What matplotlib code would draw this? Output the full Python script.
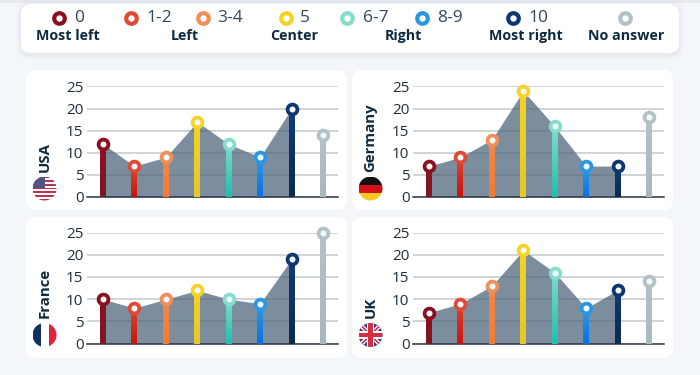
import numpy as np
import matplotlib
matplotlib.use("Agg")
import matplotlib.pyplot as plt
from matplotlib.colors import LinearSegmentedColormap
from matplotlib.patches import FancyBboxPatch, Circle, Rectangle, Polygon

plt.rcParams["font.family"] = "Open Sans"

countries = ["USA", "Germany", "France", "UK"]
usa = [12, 7, 9, 17, 12, 9, 20, 14]
germany = [7, 9, 13, 24, 16, 7, 7, 18]
france = [10, 8, 10, 12, 10, 9, 19, 25]
uk = [7, 9, 13, 21, 16, 8, 12, 14]
series = [usa, germany, france, uk]

scale_labels = ["0", "1-2", "3-4", "5", "6-7", "8-9", "10", ""]
group_labels = ["Most left", "Left", "Center", "Right", "Most right", "No answer"]
yticks = [0, 5, 10, 15, 20, 25]

ring_colors = ["#8a0f1f", "#de4a35", "#f08f58", "#f3d326", "#86dccd", "#2a96e6", "#10366f", "#b3c0c6"]
stem_top = ["#8e0f20", "#e0452f", "#f0894f", "#f5d327", "#7fdccb", "#2f9be8", "#103a7a", "#b5c2c8"]
stem_bottom = ["#7a1a24", "#c4140e", "#f27a35", "#e8c52a", "#1fc0ae", "#0a6fe0", "#0d2a4f", "#a8b8bd"]

TEXT = "#0f2a3f"
W, H = 700, 375

fig = plt.figure(figsize=(7, 3.75), dpi=100, facecolor="#f3f6fa")

# fond en pixels
bg = fig.add_axes([0, 0, 1, 1])
bg.set_xlim(0, W)
bg.set_ylim(H, 0)
bg.axis("off")


def card(x0, y0, x1, y1, rad=10, shadow=False):
    if shadow:
        for k, a in [(5, 0.012), (3, 0.018), (1.5, 0.025)]:
            bg.add_patch(FancyBboxPatch((x0, y0 + 1.5), x1 - x0, y1 - y0,
                                        boxstyle=f"round,pad={k},rounding_size={rad}",
                                        fc="#30455a", ec="none", alpha=a))
    bg.add_patch(FancyBboxPatch((x0, y0), x1 - x0, y1 - y0,
                                boxstyle=f"round,pad=0,rounding_size={rad}",
                                fc="white", ec="none"))


bg.add_patch(Rectangle((0, 0), W, 2.5, fc="#e6e9ee", ec="none"))
card(21, 4, 679, 53, shadow=True)
card(26, 70, 347, 210)
card(352, 70, 673, 210)
card(26, 217, 347, 358)
card(352, 217, 673, 358)

# légende
marker_x = [59, 131, 203, 286, 347, 422, 513, 625]
label_x = [74, 146, 217, 300, 363, 437, 528, 640]
for mx, lx, lab, c in zip(marker_x, label_x, scale_labels, ring_colors):
    bg.scatter([mx], [18], s=58, fc="white", ec=c, lw=3.0, zorder=3)
    bg.text(lx, 18.5, lab, fontsize=12.5, color="#33475a", va="center", ha="left")
for gx, lab in zip([68, 185, 294, 403, 526, 626], group_labels):
    bg.text(gx, 36, lab, fontsize=10.3, fontweight="bold", color=TEXT, va="center", ha="center")


def flag_usa(cx, cy, r):
    out = [Rectangle((cx - r, cy - r), 2 * r, 2 * r, fc="white", ec="none")]
    for k in range(7):
        out.append(Rectangle((cx - r, cy - r + k * 2 * r * 2 / 13), 2 * r, 2 * r / 13,
                             fc="#b5364f", ec="none"))
    out.append(Rectangle((cx - r, cy - r), r, r * 0.95, fc="#54557f", ec="none"))
    return out


def flag_germany(cx, cy, r):
    return [Rectangle((cx - r, cy - r + k * 2 * r / 3), 2 * r, 2 * r / 3, fc=c, ec="none")
            for k, c in enumerate(["#111111", "#d3101a", "#fbc926"])]


def flag_france(cx, cy, r):
    return [Rectangle((cx - r + k * 2 * r / 3, cy - r), 2 * r / 3, 2 * r, fc=c, ec="none")
            for k, c in enumerate(["#10305f", "#ffffff", "#e5213a"])]


def flag_uk(cx, cy, r):
    out = [Rectangle((cx - r, cy - r), 2 * r, 2 * r, fc="#3a3f78", ec="none")]
    for sx in (1, -1):
        out.append(Polygon([(cx - sx * r, cy - r + 3), (cx - sx * r + sx * 3, cy - r),
                            (cx + sx * r, cy + r - 3), (cx + sx * r - sx * 3, cy + r)],
                           fc="white", ec="none"))
        out.append(Polygon([(cx - sx * r, cy - r + 1.2), (cx - sx * r + sx * 1.2, cy - r),
                            (cx + sx * r, cy + r - 1.2), (cx + sx * r - sx * 1.2, cy + r)],
                           fc="#d22f45", ec="none"))
    out.append(Rectangle((cx - r, cy - 3.6), 2 * r, 7.2, fc="white", ec="none"))
    out.append(Rectangle((cx - 3.6, cy - r), 7.2, 2 * r, fc="white", ec="none"))
    out.append(Rectangle((cx - r, cy - 2.2), 2 * r, 4.4, fc="#d22f45", ec="none"))
    out.append(Rectangle((cx - 2.2, cy - r), 4.4, 2 * r, fc="#d22f45", ec="none"))
    return out


flags = [flag_usa, flag_germany, flag_france, flag_uk]
boxes = [(87, 86.5, 338, 197), (413, 86.5, 664, 197), (87, 232.5, 338, 343.7), (413, 232.5, 664, 343.7)]
flag_pos = [(44.5, 188.5), (370.5, 188.5), (44.5, 335), (370.5, 335)]

for name, vals, flag, box, pos in zip(countries, series, flags, boxes, flag_pos):
    x0, top, x1, bottom = box
    ax = fig.add_axes([x0 / W, 1 - bottom / H, (x1 - x0) / W, (bottom - top) / H])
    ax.patch.set_alpha(0)
    xs = np.arange(len(vals))

    # la surface s'arrête avant "No answer"
    ax.yaxis.grid(True, color="#c9cdd1", lw=1.2, zorder=1)
    ax.set_axisbelow(True)
    ax.fill_between(xs[:7], vals[:7], 0, color="#4a6378", alpha=0.72, lw=0, zorder=2)

    for i, v in enumerate(vals):
        cmap = LinearSegmentedColormap.from_list("stem", [stem_top[i], stem_bottom[i]])
        ax.imshow(np.linspace(0, 1, 64).reshape(-1, 1), cmap=cmap, aspect="auto",
                  extent=(i - 0.095, i + 0.095, 0, v), zorder=3)
        ax.scatter([i], [v], s=50, fc="#f4f9fd", ec=ring_colors[i], lw=2.7, zorder=4, clip_on=False)

    ax.set_xlim(-0.51, 7.48)
    ax.set_ylim(0, 25)
    ax.set_xticks([])
    ax.set_yticks(yticks)
    ax.tick_params(axis="y", length=0, pad=2.5, labelsize=11, labelcolor="#1f2f3d")
    for s in ["top", "left", "right"]:
        ax.spines[s].set_visible(False)
    ax.spines["bottom"].set_color("#2a3a48")
    ax.spines["bottom"].set_linewidth(1.1)

    cx, cy = pos
    r = 12
    ring = Circle((cx, cy), r, fc="none", ec="none")
    bg.add_patch(ring)
    for p in flag(cx, cy, r):
        bg.add_patch(p)
        p.set_clip_path(ring)
    bg.text(cx, cy - 16.5, name, rotation=90, fontsize=10.8, fontweight="bold",
            color=TEXT, ha="center", va="bottom")

plt.savefig("out.png", dpi=100)
